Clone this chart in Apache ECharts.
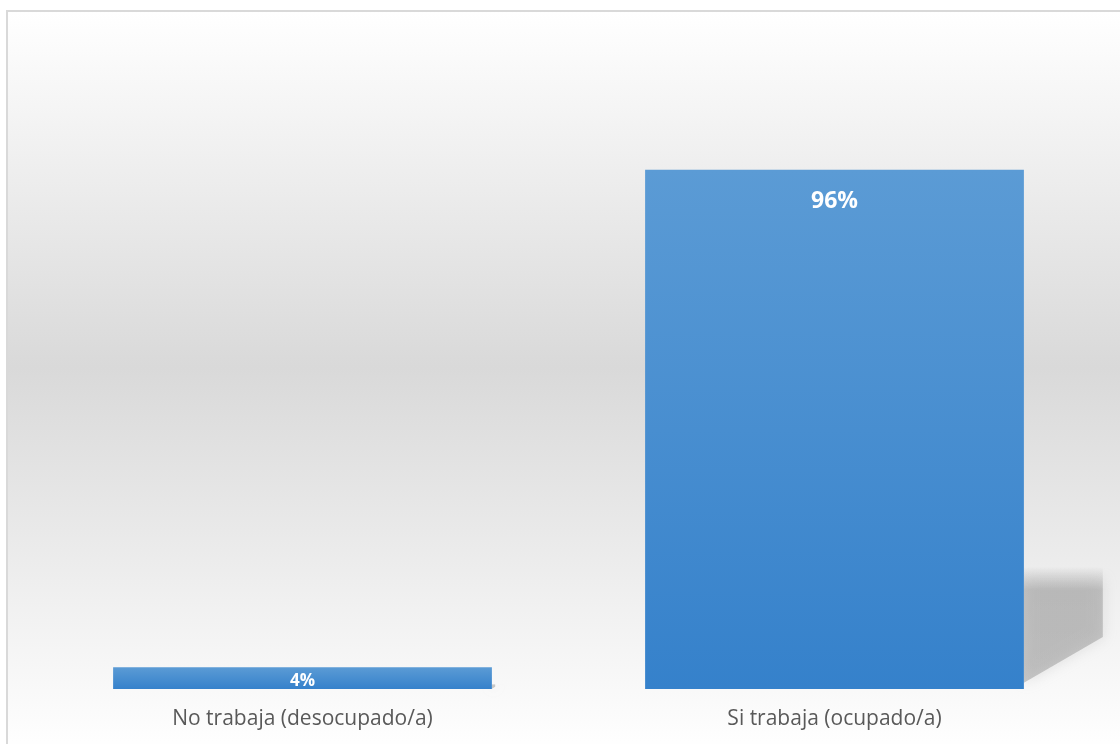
<!DOCTYPE html>
<html>
<head>
<meta charset="utf-8">
<script src="https://cdn.jsdelivr.net/npm/echarts@6/dist/echarts.min.js"></script>
<style>
  html, body { margin: 0; padding: 0; background: #ffffff; width: 1120px; height: 744px; overflow: hidden; }
  #frame {
    position: absolute; left: 6px; top: 10px; width: 1200px; height: 740px;
    border: 2px solid #d9d9d9;
    background: linear-gradient(to bottom, #ffffff 0%, #d9d9d9 48%, #ffffff 100%);
  }
  #chart { position: absolute; left: 0; top: 0; width: 1120px; height: 744px; }
</style>
</head>
<body>
<div id="frame"></div>
<div id="chart"></div>
<script>
// Situación laboral: share of respondents
const categories = ['No trabaja (desocupado/a)', 'Si trabaja (ocupado/a)'];
const values = [4, 96];

const chart = echarts.init(document.getElementById('chart'), null, { renderer: 'canvas' });

const BAR_RATIO = 0.712;

const barFill = new echarts.graphic.LinearGradient(0, 0, 0, 1, [
  { offset: 0, color: '#5b9bd5' },
  { offset: 1, color: '#3581cb' }
]);

// Perspective shadow cast to the right of each bar, sized from the bar's height
function renderShadow(params, api) {
  const idx = api.value(0);
  const base = api.coord([idx, 0]);
  const top = api.coord([idx, api.value(1)]);
  const band = api.size([1, 0])[0];
  const right = base[0] + band * BAR_RATIO / 2;
  const h = base[1] - top[1];
  const w = h * 0.152;
  return {
    type: 'polygon',
    shape: {
      points: [
        [right, base[1] - h * 0.235],
        [right + w, base[1] - h * 0.235],
        [right + w, base[1] - h * 0.1],
        [right, base[1] - h * 0.012]
      ]
    },
    style: {
      fill: new echarts.graphic.LinearGradient(0, 0, 0, 1, [
        { offset: 0, color: 'rgba(150,150,150,0)' },
        { offset: 0.2, color: 'rgba(150,150,150,0.5)' },
        { offset: 1, color: 'rgba(150,150,150,0.5)' }
      ]),
      shadowBlur: 14,
      shadowColor: 'rgba(150,150,150,0.45)'
    }
  };
}

const option = {
  backgroundColor: 'transparent',
  animation: false,
  grid: { left: 36.5, right: 19.5, top: 40, bottom: 55, containLabel: false },
  xAxis: {
    type: 'category',
    data: categories,
    axisLine: { show: false },
    axisTick: { show: false },
    axisLabel: {
      color: '#595959',
      fontFamily: 'Open Sans',
      fontSize: 21,
      margin: 20
    }
  },
  yAxis: {
    type: 'value',
    min: 0,
    max: 120,
    show: false,
    splitLine: { show: false }
  },
  series: [
    {
      type: 'custom',
      z: 1,
      silent: true,
      renderItem: renderShadow,
      data: values.map((v, i) => [i, v])
    },
    {
      type: 'bar',
      z: 2,
      barCategoryGap: ((1 - BAR_RATIO) * 100).toFixed(1) + '%',
      itemStyle: { color: barFill },
      label: {
        show: true,
        position: 'insideTop',
        distance: 20,
        color: '#ffffff',
        fontFamily: 'Open Sans',
        fontWeight: 'bold',
        fontSize: 23,
        formatter: p => p.value + '%'
      },
      data: values.map(v => v < 10
        ? { value: v, label: { position: 'inside', fontSize: 17, offset: [0, 3] } }
        : v)
    }
  ]
};

chart.setOption(option);
</script>
</body>
</html>
